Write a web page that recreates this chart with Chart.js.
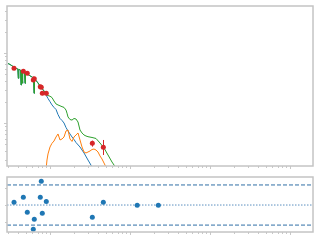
<!DOCTYPE html>
<html lang="en">
<head>
<meta charset="UTF-8">
<title>Spectrum fit</title>
<script src="https://cdn.jsdelivr.net/npm/chart.js"></script>
<style>
    body { margin: 0; background: #fff; }
    .wrap { position: relative; width: 320px; height: 240px; }
    canvas { position: absolute; left: 0; }
    #main { top: 0; }
    #resid { top: 170px; }
</style>
</head>
<body>
<div class="wrap">
    <canvas id="main" width="320" height="170"></canvas>
    <canvas id="resid" width="320" height="70"></canvas>
</div>
<script>
// axis ranges
const xMin = 0.29, xMax = 1939;
const yMin = 0.0243, yMax = 4.69;
const rMin = -1.56, rMax = 1.62;

// shared low-energy part of the model (blue and green coincide here)
const baseX = [0.2985, 0.3162, 0.3350, 0.3548, 0.3758, 0.3958, 0.4017, 0.4074, 0.4217, 0.4278, 0.4340, 0.4403,
    0.4467, 0.4519, 0.4584, 0.4732, 0.4800, 0.4870, 0.4940, 0.5309, 0.5623, 0.5957, 0.6219, 0.6310, 0.6402,
    0.6683, 0.7079, 0.7499, 0.7943, 0.8414];
const baseY = [0.708, 0.685, 0.657, 0.625, 0.604, 0.591, 0.435, 0.585, 0.572, 0.566, 0.349, 0.557,
    0.553, 0.369, 0.545, 0.530, 0.527, 0.369, 0.518, 0.493, 0.472, 0.454, 0.439, 0.266, 0.430,
    0.405, 0.373, 0.338, 0.311, 0.287];

// blue component (tail)
const blueTailX = [0.8913, 0.9441, 1.0, 1.059, 1.122, 1.189, 1.259, 1.334, 1.413, 1.496, 1.585, 1.679, 1.778,
    1.884, 1.995, 2.113, 2.371, 2.661, 2.985, 3.350];
const blueTailY = [0.2515, 0.224, 0.2015, 0.181, 0.167, 0.156, 0.132, 0.116, 0.1086, 0.100, 0.0862, 0.0769, 0.0697,
    0.0631, 0.0581, 0.0526, 0.0454, 0.0373, 0.0296, 0.0236];

// green total (tail)
const greenTailX = [0.8913, 0.9441, 1.0, 1.059, 1.122, 1.189, 1.259, 1.334, 1.413, 1.496, 1.585, 1.631, 1.679,
    1.778, 1.884, 1.995, 2.113, 2.239, 2.371, 2.512, 2.661, 2.818, 2.985, 3.350, 3.758, 4.217, 4.732, 5.309,
    5.957, 6.683];
const greenTailY = [0.255, 0.247, 0.241, 0.231, 0.206, 0.187, 0.181, 0.176, 0.171, 0.167, 0.153, 0.138, 0.122,
    0.112, 0.110, 0.116, 0.114, 0.1033, 0.0794, 0.072, 0.0674, 0.0652, 0.0637, 0.0621, 0.0601, 0.0518, 0.0439, 0.0349,
    0.0277, 0.0228];

// orange component
const orangeX = [0.878, 0.917, 0.944, 1.0, 1.059, 1.122, 1.189, 1.259, 1.334, 1.413, 1.496, 1.585, 1.679, 1.778,
    1.884, 1.995, 2.113, 2.239, 2.371, 2.512, 2.661, 2.818, 2.985, 3.162, 3.350, 3.548, 3.758, 3.981, 4.217,
    4.467, 4.732, 5.012, 5.309];
const orangeY = [0.0181, 0.0296, 0.0361, 0.0454, 0.0513, 0.0553, 0.0631, 0.0697, 0.0572, 0.0591, 0.0631, 0.0769,
    0.0794, 0.0591, 0.0545, 0.0631, 0.0674, 0.0720, 0.0572, 0.0454, 0.0385, 0.0373, 0.0385, 0.0398, 0.0418,
    0.0425, 0.0411, 0.0385, 0.0338, 0.0306, 0.0268, 0.0235, 0.0200];

// observed data with errors
const dataX = [0.355, 0.464, 0.520, 0.618, 0.636, 0.756, 0.778, 0.801, 0.899, 3.38, 4.64, 12.3, 22.6];
const dataY = [0.604, 0.548, 0.514, 0.411, 0.430, 0.330, 0.324, 0.266, 0.266, 0.0513, 0.045, 0.012, 0.008];
const dataLo = [0.57, 0.52, 0.49, 0.39, 0.41, 0.31, 0.305, 0.25, 0.25, 0.0459, 0.0349, 0.008, 0.005];
const dataHi = [0.64, 0.58, 0.54, 0.46, 0.45, 0.35, 0.345, 0.28, 0.28, 0.0559, 0.0572, 0.016, 0.011];

// residuals
const residY = [0.16, 0.45, -0.42, -1.40, -0.83, 0.45, 1.37, -0.48, 0.21, -0.71, 0.16, -0.02, -0.02];
const residTicks = [-1, 0, 1];
const bandLevel = 1.16;

const pts = (xs, ys) => xs.map((x, i) => ({ x: x, y: ys[i] }));

function logTicks(lo, hi) {
    const out = [];
    for (let k = -3; k <= 4; k++) {
        for (let m = 1; m <= 9; m++) {
            const v = m * Math.pow(10, k);
            if (v >= lo && v <= hi) out.push({ v: v, major: m === 1 });
        }
    }
    return out;
}

// frame and outward ticks, matplotlib style
function framePlugin(yTicks) {
    return {
        id: 'frame',
        afterDraw(chart) {
            const c = chart.ctx, a = chart.chartArea;
            const xs = chart.scales.x, ys = chart.scales.y;
            c.save();
            c.strokeStyle = '#c8c8c8';
            c.lineWidth = 1;
            logTicks(xMin, xMax).forEach(t => {
                const px = Math.round(xs.getPixelForValue(t.v)) + 0.5;
                c.beginPath();
                c.moveTo(px, a.bottom);
                c.lineTo(px, a.bottom + (t.major ? 3 : 2));
                c.stroke();
            });
            yTicks.forEach(t => {
                const py = Math.round(ys.getPixelForValue(t.v)) + 0.5;
                c.beginPath();
                c.moveTo(a.left, py);
                c.lineTo(a.left - (t.major ? 3 : 2), py);
                c.stroke();
            });
            c.lineWidth = 1.5;
            c.strokeStyle = '#c4c4c4';
            c.strokeRect(a.left, a.top, a.right - a.left, a.bottom - a.top);
            c.restore();
        }
    };
}

const errorBars = {
    id: 'errorBars',
    afterDatasetsDraw(chart) {
        const c = chart.ctx, a = chart.chartArea;
        const xs = chart.scales.x, ys = chart.scales.y;
        c.save();
        c.beginPath();
        c.rect(a.left, a.top, a.right - a.left, a.bottom - a.top);
        c.clip();
        c.strokeStyle = '#d62728';
        c.lineWidth = 1;
        dataX.forEach((x, i) => {
            const px = Math.round(xs.getPixelForValue(x)) + 0.5;
            c.beginPath();
            c.moveTo(px, ys.getPixelForValue(dataLo[i]));
            c.lineTo(px, ys.getPixelForValue(dataHi[i]));
            c.stroke();
        });
        c.restore();
    }
};

const lineStyle = { showLine: true, pointRadius: 0, borderWidth: 1, tension: 0 };

// lower index is drawn on top: data, green, orange, blue
new Chart(document.getElementById('main'), {
    type: 'scatter',
    data: {
        datasets: [
            {
                data: pts(dataX, dataY),
                backgroundColor: '#d62728',
                borderColor: '#d62728',
                pointRadius: 2.5,
                borderWidth: 0
            },
            Object.assign({ data: pts(baseX.concat(greenTailX), baseY.concat(greenTailY)), borderColor: '#2ca02c' }, lineStyle),
            Object.assign({ data: pts(orangeX, orangeY), borderColor: '#ff7f0e' }, lineStyle),
            Object.assign({ data: pts(baseX.concat(blueTailX), baseY.concat(blueTailY)), borderColor: '#1f77b4' }, lineStyle)
        ]
    },
    options: {
        responsive: false,
        animation: false,
        devicePixelRatio: 1,
        layout: { padding: { left: 7, right: 7, top: 6, bottom: 4 } },
        plugins: { legend: { display: false }, tooltip: { enabled: false } },
        scales: {
            x: { type: 'logarithmic', min: xMin, max: xMax, display: false },
            y: { type: 'logarithmic', min: yMin, max: yMax, display: false }
        }
    },
    plugins: [errorBars, framePlugin(logTicks(yMin, yMax))]
});

new Chart(document.getElementById('resid'), {
    type: 'scatter',
    data: {
        datasets: [
            {
                data: pts(dataX, residY),
                backgroundColor: '#1f77b4',
                borderColor: '#1f77b4',
                pointRadius: 2.5,
                borderWidth: 0
            },
            Object.assign({ data: pts([xMin, xMax], [bandLevel, bandLevel]), borderColor: '#2f6ea6', borderDash: [4, 2] }, lineStyle),
            Object.assign({ data: pts([xMin, xMax], [0, 0]), borderColor: '#5b8fbf', borderDash: [1.5, 1.5] }, lineStyle),
            Object.assign({ data: pts([xMin, xMax], [-bandLevel, -bandLevel]), borderColor: '#2f6ea6', borderDash: [4, 2] }, lineStyle)
        ]
    },
    options: {
        responsive: false,
        animation: false,
        devicePixelRatio: 1,
        layout: { padding: { left: 7, right: 7, top: 7, bottom: 8 } },
        plugins: { legend: { display: false }, tooltip: { enabled: false } },
        scales: {
            x: { type: 'logarithmic', min: xMin, max: xMax, display: false },
            y: { type: 'linear', min: rMin, max: rMax, display: false }
        }
    },
    plugins: [framePlugin(residTicks.map(v => ({ v: v, major: false })))]
});
</script>
</body>
</html>
